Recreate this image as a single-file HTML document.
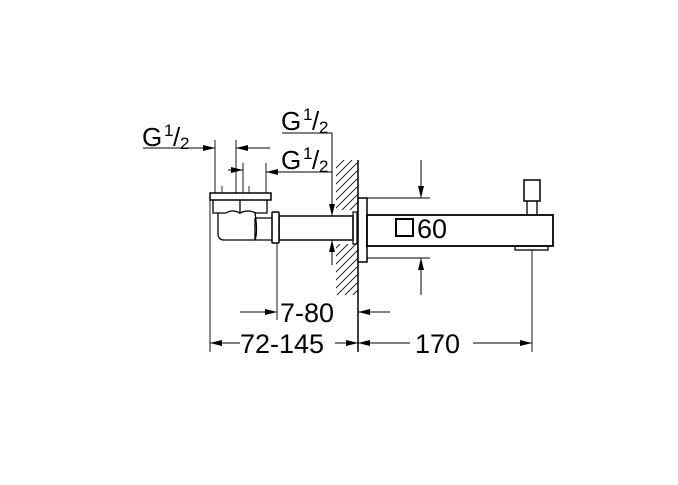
<!DOCTYPE html>
<html><head><style>body{margin:0;background:#fff}svg{display:block}text{font-family:"Liberation Sans",sans-serif;fill:#000}</style></head><body>
<svg width="678" height="485" viewBox="0 0 678 485" xmlns="http://www.w3.org/2000/svg">
<defs>
<pattern id="h" width="8" height="8" patternUnits="userSpaceOnUse"><path d="M-2,10 L10,-2 M-2,2 L2,-2 M6,10 L10,6" stroke="#000" stroke-width="0.8"/></pattern>
<marker id="a" viewBox="0 0 12 6" refX="12" refY="3" markerWidth="12" markerHeight="6" orient="auto" markerUnits="userSpaceOnUse"><path d="M0,0 L12,3 L0,6z" fill="#000"/></marker>
</defs>
<g stroke="#000" fill="none" stroke-width="1">
<rect x="336" y="160" width="22" height="135" fill="url(#h)" stroke="none"/>
<rect x="336" y="210" width="22" height="34" fill="#fff" stroke="none"/>
<line x1="358" y1="160" x2="358" y2="352" stroke-width="1.5"/>
<rect x="358" y="198" width="9" height="64" fill="#fff" stroke-width="1.5"/>
<rect x="367" y="215" width="186" height="31" fill="#fff" stroke-width="1.8"/>
<rect x="524" y="180" width="16" height="21" stroke-width="1.5"/>
<path d="M527,201 V215 M537,201 V215" stroke-width="1.3"/>
<rect x="515" y="246" width="33" height="4" stroke-width="1.3"/>
<rect x="396" y="219" width="17" height="17" stroke-width="2"/>
<rect x="279" y="216" width="74" height="24" fill="#fff" stroke-width="1.5"/>
<rect x="353" y="212" width="4" height="32" stroke-width="1.2"/>
<rect x="272" y="212" width="7" height="31" rx="1" fill="#fff" stroke-width="1.5"/>
<rect x="210" y="193" width="61" height="7" fill="#fff" stroke-width="1.5"/>
<path d="M213,200 V213 H226 Q232,209 240,213 V200 M240,200 V213 Q248,209 256,213 L267,213 V200" stroke-width="1.3"/>
<path d="M218,213 V235 Q219,240 224,240 H255 Q258,232 255,213" stroke-width="1.3"/>
<path d="M255,218 H272 M255,240 H272 M255,218 V240" stroke-width="1.3"/>
<path d="M222,186 V193 M249,186 V193" stroke-width="0.8"/>
<path d="M210,200 V352 M277,243 V320 M532,250 V352 M215,140 V193 M236,140 V193 M243,163 V193 M266,163 V193" stroke-width="0.9"/>
<path d="M367,198 H430 M367,258 H430 M421,160 V196 M421,295 V260" stroke-width="0.9"/>
<path d="M421,160 V198" marker-end="url(#a)"/>
<path d="M421,295 V258" marker-end="url(#a)"/>
<path d="M143,148 H215" marker-end="url(#a)"/>
<path d="M270,148 H236" marker-end="url(#a)"/>
<path d="M228,170 H243" marker-end="url(#a)"/>
<path d="M332,172 H266" marker-end="url(#a)"/>
<path d="M282,133 H332 V216" marker-end="url(#a)"/>
<path d="M332,265 V240" marker-end="url(#a)"/>
<path d="M240,312 H277" marker-end="url(#a)"/>
<path d="M390,312 H358" marker-end="url(#a)"/>
<path d="M240,343 H210" marker-end="url(#a)"/>
<path d="M335,343 H358" marker-end="url(#a)"/>
<path d="M410,343 H358" marker-end="url(#a)"/>
<path d="M473,343 H532" marker-end="url(#a)"/>
</g>
<g font-size="27">
<text x="142" y="146" font-size="26">G</text><text x="164" y="136" font-size="17">1</text><text x="173" y="146" font-size="26">/</text><text x="180" y="149" font-size="17">2</text>
<text x="281" y="130" font-size="26">G</text><text x="303" y="120" font-size="17">1</text><text x="312" y="130" font-size="26">/</text><text x="319" y="133" font-size="17">2</text>
<text x="281" y="169" font-size="26">G</text><text x="303" y="159" font-size="17">1</text><text x="312" y="169" font-size="26">/</text><text x="319" y="172" font-size="17">2</text>
<text x="417" y="238">60</text>
<text x="280" y="322">7-80</text>
<text x="240" y="353">72-145</text>
<text x="415" y="353">170</text>
</g>
</svg>
</body></html>
